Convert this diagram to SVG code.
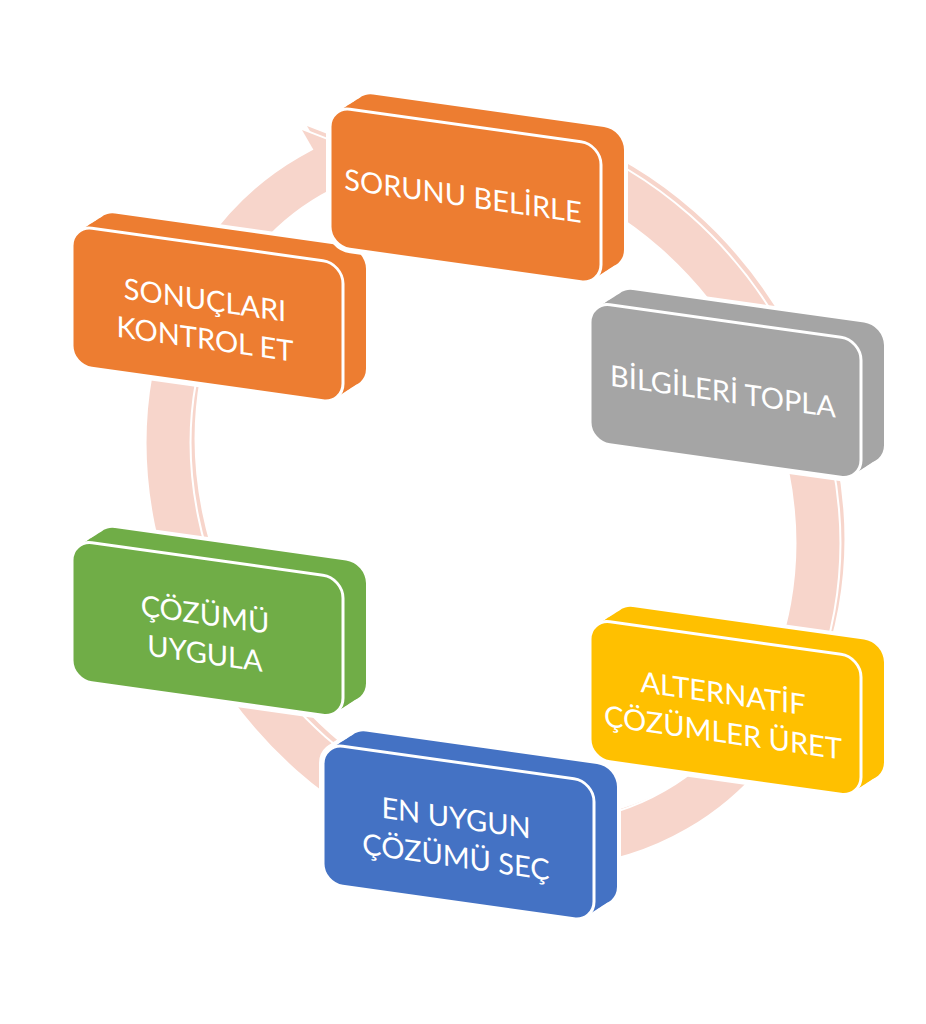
<svg xmlns="http://www.w3.org/2000/svg" xmlns:xlink="http://www.w3.org/1999/xlink" width="926" height="1024" viewBox="0 0 926 1024">
<style>
.bg{fill:#FFFFFF}
.halo use{fill:#FFFFFF;stroke:#FFFFFF;stroke-width:8;stroke-linejoin:round}
.front{stroke:#FFFFFF;stroke-width:3}
.lbl{fill:#FFFFFF;font-family:Lato,"Open Sans","Liberation Sans",sans-serif;font-size:29px;text-anchor:middle}
.ringBand{fill:none;stroke:#F7D5CB;stroke-width:43}
.ringHalo{fill:none;stroke:#FFFFFF;stroke-width:47}
.arrowFill{fill:#F7D5CB}
.arrowHalo{fill:#FFFFFF;stroke:#FFFFFF;stroke-width:4;stroke-linejoin:round}
</style>
<defs>
<rect id="box" x="0" y="0" width="271" height="140" rx="20" ry="20"/>
<ellipse id="ringE" cx="0" cy="0" rx="366" ry="310"/>
<polygon id="arrowHead" points="302,130 356,151 346,206"/>
<g id="slab">
<use xlink:href="#box" x="4.6" y="-3.6"/>
<use xlink:href="#box" x="9.2" y="-7.2"/>
<use xlink:href="#box" x="13.8" y="-10.8"/>
<use xlink:href="#box" x="18.4" y="-14.4"/>
<use xlink:href="#box" x="23" y="-18"/>
</g>
</defs>
<rect class="bg" x="0" y="0" width="926" height="1024"/>

<g id="connectors">
<g transform="translate(5,-4)">
<use xlink:href="#ringE" class="ringBand" transform="translate(493,493) rotate(60)"/>
<use xlink:href="#arrowHead" class="arrowFill"/>
</g>
<use xlink:href="#ringE" class="ringHalo" transform="translate(493,493) rotate(60)"/>
<use xlink:href="#arrowHead" class="arrowHalo"/>
<use xlink:href="#ringE" class="ringBand" transform="translate(493,493) rotate(60)"/>
<use xlink:href="#arrowHead" class="arrowFill"/>
</g>

<g id="node-sonuclari" transform="translate(72,225.5) skewY(8)" fill="#ED7D31">
<g class="halo"><use xlink:href="#box"/><use xlink:href="#slab"/></g>
<use xlink:href="#slab"/>
<use xlink:href="#box" class="front"/>
<text class="lbl" x="133" y="66">SONUÇLARI</text>
<text class="lbl" x="133" y="105">KONTROL ET</text>
</g>

<g id="node-cozumu-uygula" transform="translate(72,540) skewY(8)" fill="#70AD47">
<g class="halo"><use xlink:href="#box"/><use xlink:href="#slab"/></g>
<use xlink:href="#slab"/>
<use xlink:href="#box" class="front"/>
<text class="lbl" x="133" y="66">ÇÖZÜMÜ</text>
<text class="lbl" x="133" y="105">UYGULA</text>
</g>

<g id="node-en-uygun" transform="translate(323,743.5) skewY(8)" fill="#4472C4">
<g class="halo"><use xlink:href="#box"/><use xlink:href="#slab"/></g>
<use xlink:href="#slab"/>
<use xlink:href="#box" class="front"/>
<text class="lbl" x="133" y="66">EN UYGUN</text>
<text class="lbl" x="133" y="105">ÇÖZÜMÜ SEÇ</text>
</g>

<g id="node-alternatif" transform="translate(590,619) skewY(8)" fill="#FFC000">
<g class="halo"><use xlink:href="#box"/><use xlink:href="#slab"/></g>
<use xlink:href="#slab"/>
<use xlink:href="#box" class="front"/>
<text class="lbl" x="133" y="66">ALTERNATİF</text>
<text class="lbl" x="133" y="105">ÇÖZÜMLER ÜRET</text>
</g>

<g id="node-bilgileri" transform="translate(590,302) skewY(8)" fill="#A5A5A5">
<g class="halo"><use xlink:href="#box"/><use xlink:href="#slab"/></g>
<use xlink:href="#slab"/>
<use xlink:href="#box" class="front"/>
<text class="lbl" x="133" y="81">BİLGİLERİ TOPLA</text>
</g>

<g id="node-sorunu" transform="translate(330,106.5) skewY(8)" fill="#ED7D31">
<g class="halo"><use xlink:href="#box"/><use xlink:href="#slab"/></g>
<use xlink:href="#slab"/>
<use xlink:href="#box" class="front"/>
<text class="lbl" x="133" y="81">SORUNU BELİRLE</text>
</g>
</svg>
